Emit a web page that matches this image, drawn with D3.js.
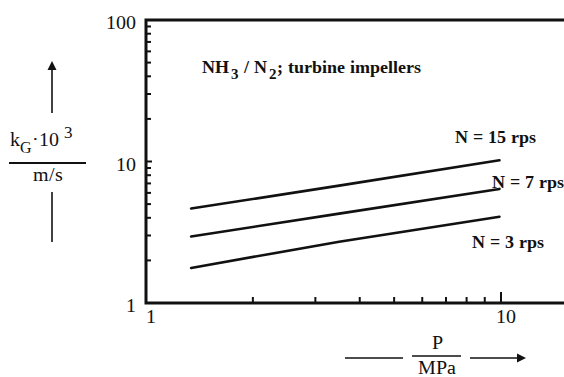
<html>
<head>
<meta charset="utf-8">
<script src="https://cdn.jsdelivr.net/npm/d3@7"></script>
<style>
  @font-face { font-family: 'ChartSerif'; src: local('Liberation Serif'), local('LiberationSerif'), local('Times New Roman'); font-weight: normal; }
  @font-face { font-family: 'ChartSerif'; src: local('Liberation Serif Bold'), local('LiberationSerif-Bold'); font-weight: bold; }
</style>
</head>
<body style="margin:0;background:#fff">
<svg id="chart" width="564" height="377" font-family="ChartSerif, Liberation Serif, serif"></svg>
<script>
// values
const pressure = [1.34, 3.5, 9.9];
const kg15 = [4.65, 6.75, 10.2];
const kg7 = [2.95, 4.28, 6.4];
const kg3 = [1.77, 2.71, 4.07];
const seriesNames = ['N = 15 rps', 'N = 7 rps', 'N = 3 rps'];
const xMajor = [1, 10];
const yMajor = [1, 10, 100];

const series = [kg15, kg7, kg3].map((v, i) => ({
    name: seriesNames[i],
    points: pressure.map((p, j) => [p, v[j]])
}));

const svg = d3.select('#chart');
const plotLeft = 146, plotTop = 20, plotBottom = 303, xTen = 501, rightEdge = 564;
const ink = '#111';
const FONT = 'ChartSerif, Liberation Serif, serif';

function txt(sel, size) {
    return sel.append('text')
        .attr('font-family', FONT)
        .attr('font-size', size)
        .attr('fill', ink);
}

const x = d3.scaleLog().domain([1, 10]).range([plotLeft, xTen]);
const y = d3.scaleLog().domain([1, 100]).range([plotBottom, plotTop]);

const minorX = d3.range(2, 10);
const minorY = d3.range(2, 10).concat(d3.range(20, 100, 10));

// axis frame: left, top, bottom
svg.append('path')
    .attr('d', `M${rightEdge},${plotTop}H${plotLeft}V${plotBottom}H${rightEdge}`)
    .attr('fill', 'none')
    .attr('stroke', ink)
    .attr('stroke-width', 3);

// y minor ticks (inside)
svg.append('g').selectAll('line')
    .data(minorY)
    .enter()
    .append('line')
    .attr('x1', plotLeft)
    .attr('x2', plotLeft + 5)
    .attr('y1', d => y(d))
    .attr('y2', d => y(d))
    .attr('stroke', ink)
    .attr('stroke-width', 2);
svg.append('line')
    .attr('x1', plotLeft).attr('x2', plotLeft + 6)
    .attr('y1', y(10)).attr('y2', y(10))
    .attr('stroke', ink).attr('stroke-width', 2);

// x minor ticks (inside)
svg.append('g').selectAll('line')
    .data(minorX)
    .enter()
    .append('line')
    .attr('x1', d => x(d))
    .attr('x2', d => x(d))
    .attr('y1', plotBottom)
    .attr('y2', plotBottom - 6)
    .attr('stroke', ink)
    .attr('stroke-width', 2);
svg.append('line')
    .attr('x1', x(10)).attr('x2', x(10))
    .attr('y1', plotBottom).attr('y2', plotBottom - 11)
    .attr('stroke', ink).attr('stroke-width', 2);

// tick labels
const yLab = svg.append('g');
yMajor.forEach(v => {
    txt(yLab, 20)
        .attr('x', plotLeft - 10)
        .attr('y', y(v) + 9)
        .attr('text-anchor', 'end')
        .text(v);
});
const xLab = svg.append('g');
xMajor.forEach(v => {
    txt(xLab, 20)
        .attr('x', x(v) + 5)
        .attr('y', plotBottom + 20)
        .attr('text-anchor', 'middle')
        .text(v);
});

// curves
const line = d3.line()
    .x(d => x(d[0]))
    .y(d => y(d[1]));
svg.append('g').selectAll('path')
    .data(series)
    .enter()
    .append('path')
    .attr('d', d => line(d.points))
    .attr('fill', 'none')
    .attr('stroke', ink)
    .attr('stroke-width', 2.6)
    .attr('stroke-linecap', 'round');

// curve labels
const labelPos = [[455, 143], [492, 188], [472, 248]];
const curveLab = svg.append('g');
series.forEach((s, i) => {
    txt(curveLab, 18)
        .attr('x', labelPos[i][0])
        .attr('y', labelPos[i][1])
        .attr('font-weight', 'bold')
        .text(s.name);
});

// title
const title = txt(svg, 18)
    .attr('x', 202)
    .attr('y', 73)
    .attr('font-weight', 'bold');
title.append('tspan').text('NH');
title.append('tspan').attr('dx', 2).attr('dy', 6).attr('font-size', 15).text('3');
title.append('tspan').attr('dy', -6).text(' / N');
title.append('tspan').attr('dx', 2).attr('dy', 6).attr('font-size', 15).text('2');
title.append('tspan').attr('dy', -6).text('; turbine impellers');

// y axis label
const yl = svg.append('g');
yl.append('line').attr('x1', 52).attr('x2', 52).attr('y1', 113).attr('y2', 66)
    .attr('stroke', ink).attr('stroke-width', 1.6);
yl.append('path').attr('d', 'M47.5,70L52,61L56.5,70Z').attr('fill', ink);
const kt = txt(yl, 20).attr('x', 10).attr('y', 146);
kt.append('tspan').text('k');
kt.append('tspan').attr('dy', 7).attr('font-size', 16).text('G');
kt.append('tspan').attr('dy', -7).text('·10');
kt.append('tspan').attr('dy', -8).attr('font-size', 17).attr('dx', 5).text('3');
yl.append('line').attr('x1', 9).attr('x2', 86).attr('y1', 163).attr('y2', 163)
    .attr('stroke', ink).attr('stroke-width', 2.2);
txt(yl, 20).attr('x', 48).attr('y', 181).attr('text-anchor', 'middle').text('m/s');
yl.append('line').attr('x1', 52).attr('x2', 52).attr('y1', 192).attr('y2', 242)
    .attr('stroke', ink).attr('stroke-width', 1.6);

// x axis label
const xl = svg.append('g');
xl.append('line').attr('x1', 345).attr('x2', 403).attr('y1', 358).attr('y2', 358)
    .attr('stroke', ink).attr('stroke-width', 1.6);
txt(xl, 20).attr('x', 437).attr('y', 349).attr('text-anchor', 'middle').text('P');
xl.append('line').attr('x1', 412).attr('x2', 461).attr('y1', 356).attr('y2', 356)
    .attr('stroke', ink).attr('stroke-width', 1.6);
txt(xl, 20).attr('x', 437).attr('y', 374).attr('text-anchor', 'middle').text('MPa');
xl.append('line').attr('x1', 470).attr('x2', 520).attr('y1', 358).attr('y2', 358)
    .attr('stroke', ink).attr('stroke-width', 1.6);
xl.append('path').attr('d', 'M517,353.5L526,358L517,362.5Z').attr('fill', ink);
</script>
</body>
</html>
